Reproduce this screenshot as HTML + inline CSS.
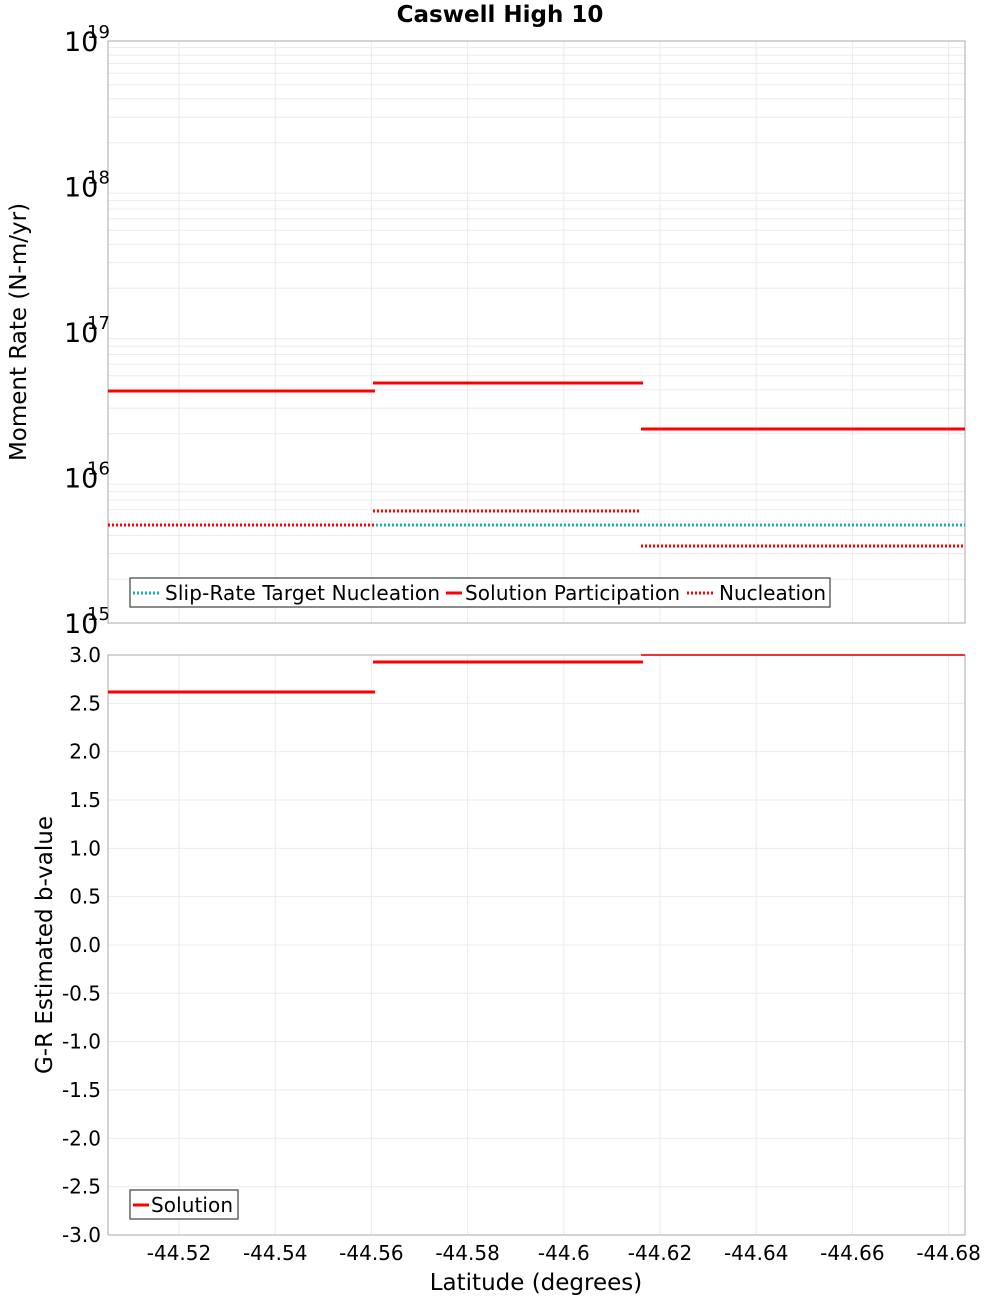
<!DOCTYPE html>
<html><head><meta charset="utf-8"><style>body{margin:0;background:#fff}svg{display:block;font-family:"DejaVu Sans",sans-serif}</style></head>
<body>
<svg id="s" width="1000" height="1300" xmlns="http://www.w3.org/2000/svg">
<text x="500" y="22" text-anchor="middle" font-size="23" font-weight="bold" font-family="DejaVu Sans, sans-serif">Caswell High 10</text>
<g id="grid" stroke="#ebebeb" stroke-width="1"></g>
<rect x="108" y="41" width="857" height="582" fill="none" stroke="#aaa"/>
<rect x="108" y="655" width="857" height="580" fill="none" stroke="#aaa"/>
<g id="lbl" font-family="DejaVu Sans, sans-serif"></g>
<line x1="108" y1="525" x2="965" y2="525" stroke="#1ab0b0" stroke-width="3" stroke-dasharray="2,2"/>
<g stroke="#f00" stroke-width="3">
<line x1="108" y1="391" x2="375" y2="391"/>
<line x1="373" y1="383" x2="643" y2="383"/>
<line x1="641" y1="429" x2="965" y2="429"/>
</g>
<g stroke="#f00" stroke-width="3" stroke-dasharray="2,2">
<line x1="108" y1="525" x2="375" y2="525"/>
<line x1="373" y1="511" x2="641" y2="511"/>
<line x1="641" y1="546" x2="965" y2="546"/>
</g>
<g stroke="#f00" stroke-width="3">
<line x1="108" y1="692" x2="375" y2="692"/>
<line x1="373" y1="662" x2="643" y2="662"/>
<line x1="641" y1="655" x2="965" y2="655" stroke-width="2" stroke="#e33"/>
</g>
<rect x="130" y="578" width="700" height="29" fill="#fff" stroke="#666" stroke-width="1.5"/>
<line x1="133" y1="593" x2="161" y2="593" stroke="#1ab0b0" stroke-width="3" stroke-dasharray="2,2"/>
<text x="165" y="600" font-size="20" textLength="275" font-family="DejaVu Sans, sans-serif">Slip-Rate Target Nucleation</text>
<line x1="446" y1="593" x2="462" y2="593" stroke="#f00" stroke-width="3"/>
<text x="465" y="600" font-size="20" textLength="215" font-family="DejaVu Sans, sans-serif">Solution Participation</text>
<line x1="687" y1="593" x2="715" y2="593" stroke="#f00" stroke-width="3" stroke-dasharray="2,2"/>
<text x="719" y="600" font-size="20" textLength="107" font-family="DejaVu Sans, sans-serif">Nucleation</text>
<rect x="130" y="1190" width="108" height="29" fill="#fff" stroke="#666" stroke-width="1.5"/>
<line x1="133" y1="1205" x2="149" y2="1205" stroke="#f00" stroke-width="3"/>
<text x="151" y="1212" font-size="20" textLength="82" font-family="DejaVu Sans, sans-serif">Solution</text>
<text transform="translate(26,332) rotate(-90)" text-anchor="middle" font-size="23" font-family="DejaVu Sans, sans-serif">Moment Rate (N-m/yr)</text>
<text transform="translate(52,945) rotate(-90)" text-anchor="middle" font-size="23" font-family="DejaVu Sans, sans-serif">G-R Estimated b-value</text>
<text x="536" y="1290" text-anchor="middle" font-size="23" font-family="DejaVu Sans, sans-serif">Latitude (degrees)</text>
</svg>
<script>
var NS="http://www.w3.org/2000/svg",g=document.getElementById('grid'),L=document.getElementById('lbl');
function ln(x1,y1,x2,y2){var e=document.createElementNS(NS,'line');e.setAttribute('x1',x1);e.setAttribute('y1',y1);e.setAttribute('x2',x2);e.setAttribute('y2',y2);g.appendChild(e);}
function tx(x,y,s,sz,anc){var e=document.createElementNS(NS,'text');e.setAttribute('x',x);e.setAttribute('y',y);e.setAttribute('font-size',sz);if(anc)e.setAttribute('text-anchor',anc);e.textContent=s;L.appendChild(e);}
var labs=['-44.52','-44.54','-44.56','-44.58','-44.6','-44.62','-44.64','-44.66','-44.68'];
for(var i=0;i<9;i++){var x=179+i*96.2;ln(x,41,x,623);ln(x,655,x,1235);tx(x,1260,labs[i],20,'middle');}
var dec=145.5;
for(var d=0;d<4;d++){for(var m=2;m<10;m++){var y=623-d*dec-Math.log10(m)*dec;ln(108,y,965,y);}}
for(var d=0;d<5;d++){var y=623-d*dec;tx(64,y+10,'10',27,'start');tx(87,y-3,''+(15+d),18,'start');}
for(var k=0;k<=12;k++){var y=655+k*48.33;ln(108,y,965,y);var v=(3-k*0.5).toFixed(1);tx(101,y+7,v,20,'end');}
</script>
</body></html>
